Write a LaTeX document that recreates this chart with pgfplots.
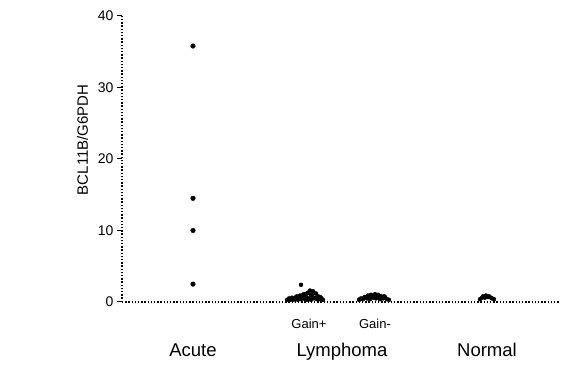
\documentclass[border=0pt]{standalone}
\usepackage{fontspec}
\setmainfont{Liberation Sans}
\usepackage{pgfplots}
\pgfplotsset{compat=1.18}
\begin{document}
\begin{tikzpicture}
\begin{axis}[
  scale only axis, width=438pt, height=286pt,
  xmin=0, xmax=438, ymin=0, ymax=40,
  axis x line=bottom, axis y line=left,
  axis line style={-, line width=1.2pt, dash pattern=on 1.4pt off 1.8pt},
  xtick=\empty,
  ytick={0,10,20,30,40},
  tick align=outside, major tick length=5pt,
  ytick style={line width=1pt, black},
  /pgf/number format/assume math mode=true,
  yticklabel style={font=\fontsize{14}{16}\selectfont},
  ylabel={BCL11B/G6PDH},
  ylabel style={font=\fontsize{15}{17}\selectfont, at={(axis description cs:-0.09,0.567)}, anchor=center},
  clip=false,
]
% Acute
\addplot[only marks, mark=*, mark size=2.3pt, black, mark options={draw=black, fill=black}] coordinates {
(71,35.8) (71,14.5) (71,10) (71,2.5)
};
% Lymphoma, first group
\addplot[only marks, mark=*, mark size=2pt, black, mark options={draw=black, fill=black}] coordinates {
(165,0.3) (167,0.5) (168,0.3) (170,0.6) (171,0.3) (173,0.4) (174,0.7) (175,0.8) (176,0.3) (177,0.5) (178,0.9)
(179,0.4) (180,0.6) (181,1.0) (182,1.1) (183,0.4) (184,0.7) (185,1.2) (186,1.3) (187,0.5) (188,1.6) (189,0.9) (190,1.0) (191,1.5)
(192,0.5) (193,0.6) (194,1.2) (195,0.4) (196,0.8) (197,0.4) (198,0.7) (199,0.6) (200,0.4) (201,0.3) (179,2.4) (185,0.3) (189,0.3)
};
% Lymphoma, second group
\addplot[only marks, mark=*, mark size=2pt, black, mark options={draw=black, fill=black}] coordinates {
(237,0.3) (238,0.4) (239,0.5) (241,0.4) (242,0.6) (243,0.7) (245,0.5) (246,0.9) (247,0.8) (248,0.4) (249,1.0) (251,0.6)
(252,0.9) (253,1.1) (254,0.5) (255,0.9) (256,1.0) (257,0.6) (258,0.4) (259,0.8) (261,0.5) (262,0.8) (263,0.7) (265,0.4) (267,0.3)
};
% Normal
\addplot[only marks, mark=*, mark size=2pt, black, mark options={draw=black, fill=black}] coordinates {
(358,0.4) (360,0.6) (361,0.8) (363,0.6) (364,0.9) (366,0.7) (367,0.8) (369,0.6) (370,0.5) (372,0.4)
};
\node[anchor=base, font=\fontsize{18.5}{20}\selectfont] at (axis cs:71,0) [yshift=-55pt] {Acute};
\node[anchor=base, font=\fontsize{18.5}{20}\selectfont] at (axis cs:220,0) [yshift=-55pt] {Lymphoma};
\node[anchor=base, font=\fontsize{18.5}{20}\selectfont] at (axis cs:365,0) [yshift=-55pt] {Normal};
\node[anchor=base, font=\fontsize{13}{15}\selectfont] at (axis cs:187,0) [yshift=-27pt] {Gain+};
\node[anchor=base, font=\fontsize{13}{15}\selectfont] at (axis cs:253,0) [yshift=-27pt] {Gain-};
\end{axis}
\path[use as bounding box] (-122pt,-57pt) rectangle (441pt,302pt);
\end{tikzpicture}
\end{document}
